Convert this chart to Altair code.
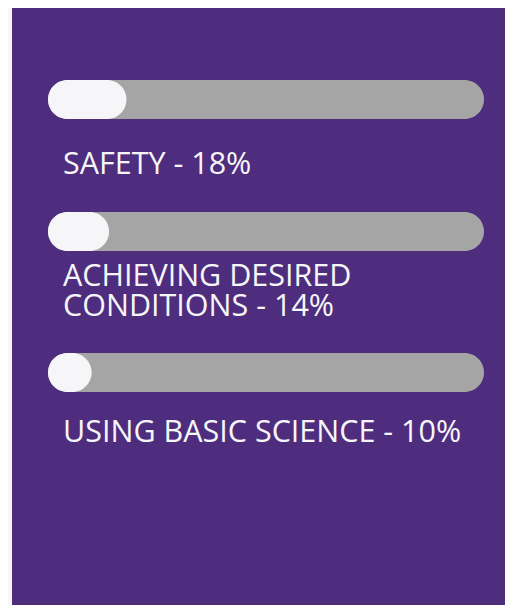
import altair as alt
import pandas as pd

# Data
labels = ["SAFETY - 18%", "ACHIEVING DESIRED\nCONDITIONS - 14%", "USING BASIC SCIENCE - 10%"]
percents = [18, 14, 10]
totals = [100, 100, 100]

PURPLE = "#4f2d7e"
TRACK = "#a5a5a5"
FILL = "#f6f6f8"
PAGE = "#f7f7f7"

df = pd.DataFrame({"label": labels, "pct": percents, "total": totals, "idx": [0, 1, 2]})

# layout (style) per item: bar top, label baseline (pixels within plot)
layout = [(72, 166), (204, 278), (345, 434)]
BAR_H = 39
W, H = 493, 597

xscale = alt.Scale(domain=[0, 100], range=[36, 472], nice=False, zero=True)

layers = []
for i, (top, base) in enumerate(layout):
    d = df[df.idx == i]
    b = alt.Chart(d)
    track = b.mark_bar(color=TRACK, cornerRadius=BAR_H / 2).transform_calculate(
        zero="0"
    ).encode(
        x=alt.X("zero:Q", scale=xscale, axis=None),
        x2=alt.X2("total:Q"),
        y=alt.value(top),
        y2=alt.value(top + BAR_H),
    )
    fill = b.mark_bar(color=FILL, cornerRadius=BAR_H / 2).transform_calculate(
        zero="0"
    ).encode(
        x=alt.X("zero:Q", scale=xscale, axis=None),
        x2=alt.X2("pct:Q"),
        y=alt.value(top),
        y2=alt.value(top + BAR_H),
    )
    text = b.mark_text(
        align="left", baseline="alphabetic", font="Open Sans", fontSize=30.5,
        color=FILL, lineBreak="\n", lineHeight=30,
    ).encode(
        x=alt.value(51),
        y=alt.value(base),
        text="label:N",
    )
    layers += [track, fill, text]

chart = alt.layer(*layers).properties(
    width=W,
    height=H,
    background=PAGE,
    padding={"left": 4, "top": 0, "right": 0, "bottom": 0},
).configure_view(fill=PURPLE, stroke=None)

chart.save("out.html", embed_options={"renderer": "svg", "actions": False})
